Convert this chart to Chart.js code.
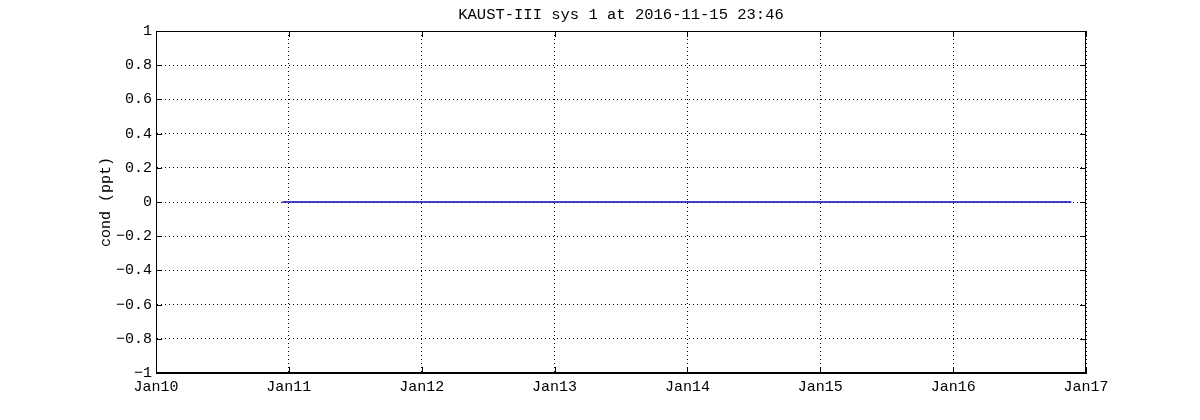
<!DOCTYPE html>
<html>
<head>
<meta charset="utf-8">
<script src="https://cdn.jsdelivr.net/npm/chart.js@4"></script>
<style>
  html, body { margin: 0; padding: 0; background: #fff; }
  #wrap { width: 1200px; height: 420px; }
</style>
</head>
<body>
<div id="wrap"><canvas id="myChart"></canvas></div>
<script>
// chart data
var titleText = 'KAUST-III sys 1 at 2016-11-15 23:46';
var yLabel = 'cond (ppt)';
var xTickValues = [0, 1, 2, 3, 4, 5, 6, 7];            // days since Jan10
var xTickLabels = ['Jan10', 'Jan11', 'Jan12', 'Jan13', 'Jan14', 'Jan15', 'Jan16', 'Jan17'];
var yTickValues = [-1, -0.8, -0.6, -0.4, -0.2, 0, 0.2, 0.4, 0.6, 0.8, 1];
var yTickLabels = ['\u22121', '\u22120.8', '\u22120.6', '\u22120.4', '\u22120.2', '0', '0.2', '0.4', '0.6', '0.8', '1'];
var condDays = [0.95, 6.89];   // first and last sample (days since Jan10)
var condValues = [0, 0];

var monoFont = '"Liberation Mono", "DejaVu Sans Mono", monospace';

window.onload = function() {
    Chart.defaults.font.family = monoFont;
    Chart.defaults.color = '#000';

    // box round the plot, matlab style inward tick marks and title over the plot area
    var boxPlugin = {
        id: 'box',
        afterDraw: function(chart) {
            var c = chart.ctx, a = chart.chartArea;
            var xs = chart.scales.x, ys = chart.scales.y;
            c.save();
            c.strokeStyle = '#000';
            c.lineWidth = 1;
            c.setLineDash([]);
            c.strokeRect(a.left + 0.5, a.top + 0.5, a.right - a.left - 1, a.bottom - a.top - 1);
            var len = 6;
            c.beginPath();
            xs.ticks.forEach(function(t, i) {
                var px = Math.round(xs.getPixelForTick(i)) + 0.5;
                c.moveTo(px, a.bottom); c.lineTo(px, a.bottom - len);
                c.moveTo(px, a.top); c.lineTo(px, a.top + len);
            });
            ys.ticks.forEach(function(t, i) {
                var py = Math.round(ys.getPixelForTick(i)) + 0.5;
                c.moveTo(a.left, py); c.lineTo(a.left + len, py);
                c.moveTo(a.right, py); c.lineTo(a.right - len, py);
            });
            c.stroke();

            c.fillStyle = '#000';
            c.font = '15.5px ' + monoFont;
            c.textAlign = 'center';
            c.textBaseline = 'middle';
            c.fillText(titleText, (a.left + a.right) / 2, 15);
            c.restore();
        }
    };

    var ctx = document.getElementById('myChart').getContext('2d');
    var myChart = new Chart(ctx, {
        type: 'line',
        data: {
            datasets: [{
                label: 'cond',
                data: condDays.map(function(d, i) { return { x: d, y: condValues[i] }; }),
                borderColor: '#0a0ab4',
                borderWidth: 1.5,
                pointRadius: 0,
                fill: false,
                tension: 0
            }]
        },
        options: {
            responsive: true,
            maintainAspectRatio: false,
            animation: false,
            events: [],
            layout: { padding: { left: 97, right: 114, top: 31, bottom: 0 } },
            scales: {
                x: {
                    type: 'linear',
                    min: 0,
                    max: 7,
                    afterBuildTicks: function(s) { s.ticks = xTickValues.map(function(v) { return { value: v }; }); },
                    afterFit: function(s) { s.height = 47; },
                    grid: { color: '#000', lineWidth: 1, drawTicks: false },
                    border: { display: true, color: '#000', dash: [1, 3] }, // dotted grid
                    ticks: {
                        padding: 5,
                        maxRotation: 0,
                        autoSkip: false,
                        font: { size: 15 },
                        color: '#000',
                        callback: function(v, i) { return xTickLabels[i]; }
                    }
                },
                y: {
                    min: -1,
                    max: 1,
                    afterBuildTicks: function(s) { s.ticks = yTickValues.map(function(v) { return { value: v }; }); },
                    afterFit: function(s) { s.width = 59; },
                    grid: { color: '#000', lineWidth: 1, drawTicks: false },
                    border: { display: true, color: '#000', dash: [1, 3] }, // dotted grid
                    ticks: {
                        padding: 4,
                        autoSkip: false,
                        font: { size: 15 },
                        color: '#000',
                        callback: function(v, i) { return yTickLabels[i]; }
                    },
                    title: {
                        display: true,
                        text: yLabel,
                        font: { size: 15 },
                        color: '#000',
                        padding: { top: 0, bottom: 0 }
                    }
                }
            },
            plugins: {
                legend: { display: false },
                tooltip: { enabled: false },
                title: { display: false }
            }
        },
        plugins: [boxPlugin]
    });
};
</script>
</body>
</html>
